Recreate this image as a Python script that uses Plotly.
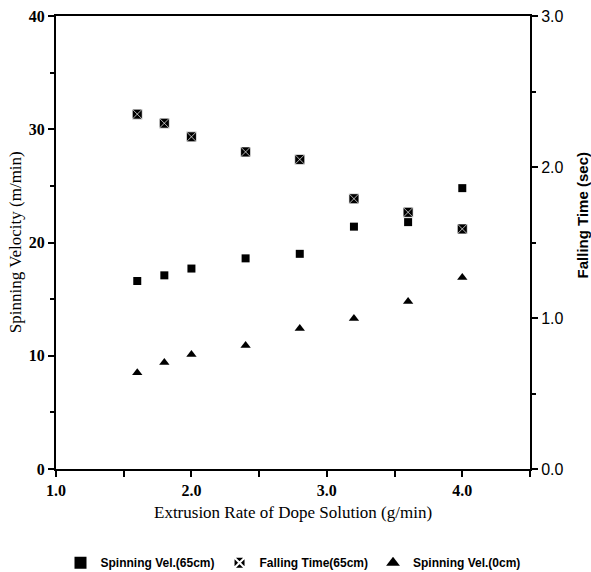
import plotly.graph_objects as go

extrusion_rate = [1.6, 1.8, 2.0, 2.4, 2.8, 3.2, 3.6, 4.0]
spinning_vel_65 = [16.6, 17.1, 17.7, 18.6, 19.0, 21.4, 21.8, 24.8]
falling_time_65 = [2.35, 2.29, 2.20, 2.10, 2.05, 1.79, 1.70, 1.59]
spinning_vel_0 = [8.5, 9.4, 10.1, 10.9, 12.4, 13.3, 14.8, 16.9]

serif = "Liberation Serif, DejaVu Serif, serif"
sans = "Liberation Sans Narrow, Liberation Sans, Arial, sans-serif"

fig = go.Figure()
fig.add_trace(go.Scatter(
    x=extrusion_rate, y=spinning_vel_65, mode="markers", name="Spinning Vel.(65cm)",
    marker=dict(symbol="square", size=8, color="black")))
fig.add_trace(go.Scatter(
    x=extrusion_rate, y=falling_time_65, mode="markers", name="Falling Time(65cm)", yaxis="y2",
    marker=dict(symbol="square-x", size=10, color="black", line=dict(color="white", width=0.7))))
fig.add_trace(go.Scatter(
    x=extrusion_rate, y=spinning_vel_0, mode="markers", name="Spinning Vel.(0cm)",
    marker=dict(symbol="triangle-up", size=9, color="black")))

fig.update_layout(
    width=591, height=572,
    margin=dict(l=56, r=61, t=16, b=103, autoexpand=False),
    paper_bgcolor="white", plot_bgcolor="white",
    showlegend=True,
    legend=dict(orientation="h", x=0.5, xanchor="center", y=-0.207, yanchor="middle",
                font=dict(family=sans, size=12, color="black", weight="bold"),
                itemsizing="constant", bgcolor="rgba(0,0,0,0)"),
    xaxis=dict(range=[1.0, 4.5], dtick=1.0, tick0=1.0, tickformat=".1f",
               showgrid=False, zeroline=False, showline=True, linecolor="black", linewidth=2,
               mirror=True, ticks="outside", ticklen=6, tickwidth=1.5, tickcolor="black",
               minor=dict(dtick=0.5, ticks="outside", ticklen=6, tickwidth=1.5, tickcolor="black"),
               tickfont=dict(family=serif, size=16, color="black", weight="bold")),
    yaxis=dict(range=[0, 40], dtick=10, showgrid=False, zeroline=False, showline=True,
               linecolor="black", linewidth=2, ticks="outside", ticklen=6, tickwidth=1.5,
               tickcolor="black",
               minor=dict(dtick=5, ticks="outside", ticklen=4, tickwidth=1.5, tickcolor="black"),
               tickfont=dict(family=serif, size=16, color="black", weight="bold")),
    yaxis2=dict(range=[0, 3.0], dtick=1.0, tickformat=".1f", overlaying="y", side="right",
                showgrid=False, zeroline=False, showline=True, linecolor="black", linewidth=2,
                ticks="outside", ticklen=6, tickwidth=1.5, tickcolor="black",
                minor=dict(dtick=0.5, ticks="outside", ticklen=4, tickwidth=1.5, tickcolor="black"),
                tickfont=dict(family=sans, size=16, color="black")),
    annotations=[
        dict(text="Extrusion Rate of Dope Solution (g/min)", xref="paper", yref="paper",
             x=0.5, y=-0.095, xanchor="center", yanchor="middle", showarrow=False,
             font=dict(family=serif, size=17, color="black")),
        dict(text="Spinning Velocity (m/min)", xref="paper", yref="paper",
             x=-0.085, y=0.5, xanchor="center", yanchor="middle", showarrow=False, textangle=-90,
             font=dict(family=serif, size=17, color="black")),
        dict(text="Falling Time (sec)", xref="paper", yref="paper",
             x=1.11, y=0.56, xanchor="center", yanchor="middle", showarrow=False, textangle=-90,
             font=dict(family=sans, size=15, color="black", weight="bold")),
    ],
)

fig.write_html("out.html", config={"displayModeBar": False},
               post_script="document.body.style.margin='0';")
